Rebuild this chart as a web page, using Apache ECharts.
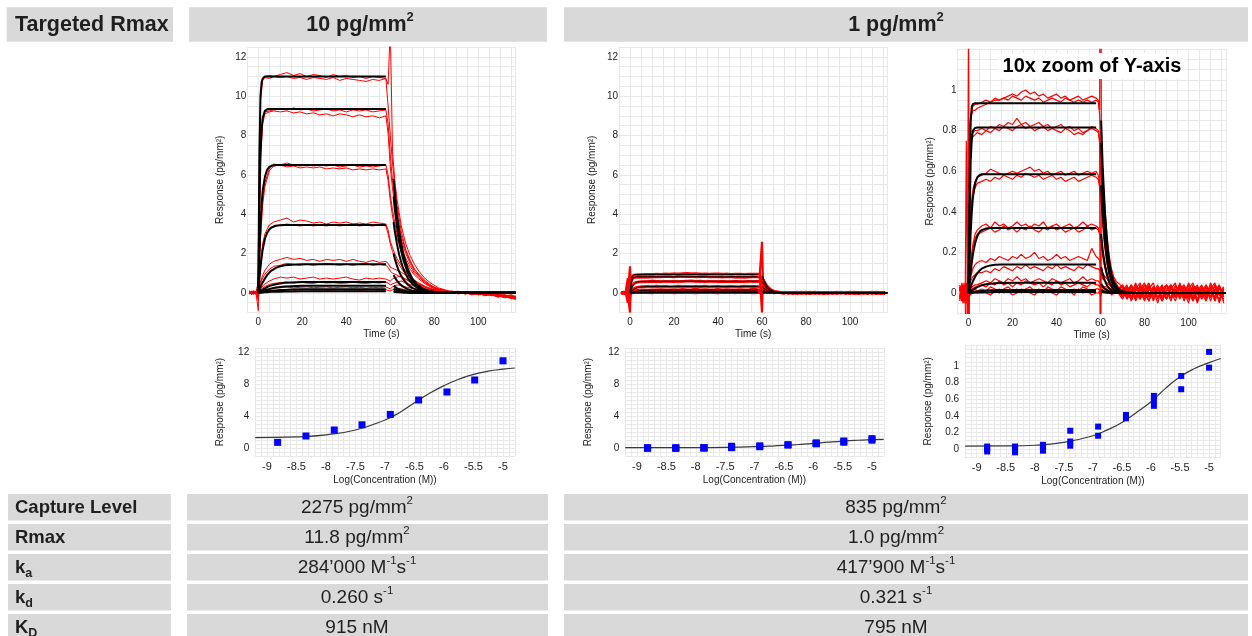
<!DOCTYPE html>
<html>
<head>
<meta charset="utf-8">
<title>Targeted Rmax kinetics</title>
<script src="https://cdn.jsdelivr.net/npm/echarts@6.0.0/dist/echarts.min.js"></script>
<style>
  html, body { margin: 0; padding: 0; background: #fff; }
  #chart { width: 1252px; height: 636px; }
</style>
</head>
<body>
<div id="chart"></div>
<script>
// ---------- tick labels ----------
const SENSOR_X_LABELS = [0, 20, 40, 60, 80, 100];
const SENSOR_Y_LABELS_FULL = [0, 2, 4, 6, 8, 10, 12];
const SENSOR_Y_LABELS_ZOOM = [0, 0.2, 0.4, 0.6, 0.8, 1];
const DOSE_X_LABELS = [-9, -8.5, -8, -7.5, -7, -6.5, -6, -5.5, -5];
const DOSE_Y_LABELS_FULL = [0, 4, 8, 12];
const DOSE_Y_LABELS_ZOOM = [0, 0.2, 0.4, 0.6, 0.8, 1];

// ---------- fitted curves (black) ----------
const FIT_TIME_ASSOC = [0, 0.5, 1, 1.5, 2, 3, 4, 5, 6, 8, 10, 12, 15, 20, 58];
const FIT_TIME_DISSOC_HI = [61.5, 62, 63, 64, 65, 66, 68, 70, 72, 75, 78, 82, 90, 117];
const FIT_TIME_DISSOC_LO = [60.3, 61, 62, 63, 64, 65, 66, 68, 70, 75, 117];

const FIT_ASSOC_HI = [
  [0, 7.2, 10.0, 10.7, 10.9, 11.0, 11.0, 11.0, 11.0, 11.0, 11.0, 11.0, 11.0, 11.0, 11.0],
  [0, 4.5, 7.0, 8.3, 8.9, 9.25, 9.33, 9.35, 9.35, 9.35, 9.35, 9.35, 9.35, 9.35, 9.35],
  [0, 2.0, 3.5, 4.5, 5.2, 5.9, 6.25, 6.4, 6.46, 6.5, 6.5, 6.5, 6.5, 6.5, 6.5],
  [0, 0.7, 1.3, 1.8, 2.2, 2.75, 3.05, 3.22, 3.32, 3.41, 3.44, 3.45, 3.45, 3.45, 3.45],
  [0, 0.15, 0.3, 0.42, 0.53, 0.73, 0.9, 1.03, 1.13, 1.27, 1.35, 1.4, 1.43, 1.45, 1.45],
  [0, 0.04, 0.08, 0.12, 0.16, 0.23, 0.29, 0.34, 0.38, 0.44, 0.48, 0.51, 0.53, 0.55, 0.55],
  [0, 0.02, 0.04, 0.06, 0.08, 0.12, 0.16, 0.19, 0.22, 0.27, 0.3, 0.32, 0.34, 0.36, 0.36],
  [0, 0.01, 0.02, 0.03, 0.04, 0.06, 0.08, 0.09, 0.1, 0.12, 0.14, 0.15, 0.17, 0.18, 0.18],
  [0, 0, 0.01, 0.01, 0.02, 0.03, 0.03, 0.04, 0.05, 0.06, 0.06, 0.07, 0.07, 0.08, 0.08]
];
const FIT_DISSOC_HI = [
  [5.8, 5.1, 4.0, 3.15, 2.5, 1.95, 1.2, 0.72, 0.43, 0.2, 0.08, 0.03, 0, 0],
  [4.9, 4.3, 3.4, 2.65, 2.1, 1.65, 1.0, 0.6, 0.36, 0.16, 0.07, 0.02, 0, 0],
  [3.6, 3.15, 2.5, 1.95, 1.55, 1.2, 0.74, 0.45, 0.27, 0.12, 0.05, 0.02, 0, 0],
  [2.0, 1.75, 1.38, 1.08, 0.85, 0.67, 0.41, 0.25, 0.15, 0.07, 0.03, 0.01, 0, 0],
  [0.9, 0.79, 0.62, 0.49, 0.38, 0.3, 0.18, 0.11, 0.07, 0.03, 0.01, 0, 0, 0],
  [0.35, 0.31, 0.24, 0.19, 0.15, 0.12, 0.07, 0.04, 0.03, 0.01, 0, 0, 0, 0],
  [0.2, 0.18, 0.14, 0.11, 0.09, 0.07, 0.04, 0.03, 0.02, 0.01, 0, 0, 0, 0],
  [0.1, 0.09, 0.07, 0.05, 0.04, 0.03, 0.02, 0.01, 0, 0, 0, 0, 0, 0],
  [0.05, 0.04, 0.03, 0.03, 0.02, 0.02, 0.01, 0, 0, 0, 0, 0, 0, 0]
];
const FIT_ASSOC_LO = [
  [0, 0.55, 0.85, 0.92, 0.93, 0.935, 0.935, 0.935, 0.935, 0.935, 0.935, 0.935, 0.935, 0.935, 0.935],
  [0, 0.38, 0.65, 0.76, 0.8, 0.813, 0.815, 0.815, 0.815, 0.815, 0.815, 0.815, 0.815, 0.815, 0.815],
  [0, 0.15, 0.3, 0.4, 0.47, 0.54, 0.57, 0.58, 0.585, 0.585, 0.585, 0.585, 0.585, 0.585, 0.585],
  [0, 0.05, 0.1, 0.15, 0.19, 0.245, 0.28, 0.3, 0.31, 0.318, 0.32, 0.32, 0.32, 0.32, 0.32],
  [0, 0.015, 0.03, 0.045, 0.058, 0.08, 0.097, 0.11, 0.12, 0.13, 0.136, 0.139, 0.14, 0.14, 0.14],
  [0, 0.004, 0.008, 0.012, 0.016, 0.023, 0.029, 0.034, 0.038, 0.043, 0.046, 0.048, 0.049, 0.05, 0.05],
  [0, 0.001, 0.002, 0.003, 0.004, 0.006, 0.008, 0.009, 0.01, 0.012, 0.013, 0.014, 0.015, 0.015, 0.015],
  [0, 0, 0.001, 0.001, 0.001, 0.002, 0.002, 0.003, 0.003, 0.004, 0.004, 0.005, 0.005, 0.005, 0.005]
];
const FIT_DISSOC_LO = [
  [0.85, 0.62, 0.4, 0.25, 0.15, 0.09, 0.055, 0.02, 0.008, 0, 0],
  [0.74, 0.54, 0.35, 0.22, 0.13, 0.08, 0.048, 0.018, 0.007, 0, 0],
  [0.53, 0.39, 0.25, 0.16, 0.095, 0.058, 0.035, 0.013, 0.005, 0, 0],
  [0.29, 0.21, 0.14, 0.085, 0.052, 0.032, 0.019, 0.007, 0.003, 0, 0],
  [0.127, 0.093, 0.06, 0.037, 0.023, 0.014, 0.008, 0.003, 0.001, 0, 0],
  [0.045, 0.033, 0.021, 0.013, 0.008, 0.005, 0.003, 0.001, 0, 0, 0],
  [0.014, 0.01, 0.006, 0.004, 0.002, 0.001, 0.001, 0, 0, 0, 0],
  [0.005, 0.003, 0.002, 0.001, 0.001, 0, 0, 0, 0, 0, 0]
];

// ---------- measured sensorgrams (red), 10 pg/mm2 ----------
const RED_TIME_HI = [-4, -3, -2, -1, 0,
  0.5, 1, 2, 3, 5, 7,
  10, 13, 16, 19, 22, 25, 28, 31, 34, 37, 40, 43, 46, 49, 52, 55, 58,
  59, 60, 61, 62, 63,
  65, 67, 69, 71, 73,
  76, 79, 82, 85, 88, 91, 94, 97, 100, 103, 106, 109, 112, 115, 117];
const RED_HI = [
  [0.05, -0.08, 0.1, 0.02, 0.3,
   6.5, 10.2, 10.9, 11.0, 11.05, 11.0,
   11.1, 11.2, 11.05, 11.15, 11.0, 11.1, 11.05, 10.95, 11.1, 11.0, 11.05, 10.95, 11.0, 10.9, 11.0, 10.95, 10.9,
   10.6, 13.5, 7.2, 5.8, 4.8,
   3.4, 2.5, 1.9, 1.45, 1.1,
   0.7, 0.45, 0.25, 0.15, 0.05, 0.08, -0.05, 0.02, -0.1, -0.05, -0.15, -0.1, -0.25, -0.2, -0.3],
  [-0.05, 0.1, -0.05, 0.08, -0.2,
   5.5, 9.8, 10.8, 10.95, 10.9, 11.0,
   10.95, 11.0, 10.9, 10.95, 10.85, 10.95, 10.9, 10.85, 10.95, 10.8, 10.9, 10.85, 10.8, 10.75, 10.85, 10.8, 10.9,
   9.5, 8.0, 6.6, 5.5, 4.5,
   3.1, 2.2, 1.65, 1.2, 0.9,
   0.55, 0.3, 0.2, 0.05, 0.1, -0.02, 0.05, -0.08, 0.0, -0.12, -0.05, -0.2, -0.15, -0.28, -0.22],
  [0.1, 0.0, -0.06, 0.05, 0.6,
   4.0, 7.2, 8.8, 9.2, 9.25, 9.3,
   9.35, 9.3, 9.4, 9.3, 9.35, 9.25, 9.3, 9.35, 9.25, 9.3, 9.2, 9.3, 9.25, 9.3, 9.2, 9.25, 9.3,
   8.6, 7.0, 5.7, 4.8, 4.0,
   2.9, 2.15, 1.6, 1.2, 0.95,
   0.6, 0.35, 0.2, 0.12, 0.0, 0.06, -0.04, 0.05, -0.08, 0.0, -0.12, -0.08, -0.18, -0.3, -0.25],
  [-0.04, 0.06, 0.1, -0.05, -0.9,
   3.2, 6.8, 8.6, 9.1, 9.2, 9.25,
   9.2, 9.25, 9.15, 9.2, 9.1, 9.15, 9.05, 9.1, 9.0, 9.1, 9.05, 8.95, 9.05, 8.95, 9.0, 8.9, 9.0,
   8.1, 6.4, 5.3, 4.5, 3.8,
   2.7, 2.0, 1.5, 1.1, 0.85,
   0.5, 0.3, 0.15, 0.08, 0.05, -0.05, 0.02, -0.1, -0.02, -0.15, -0.08, -0.22, -0.12, -0.25, -0.35],
  [0.02, -0.1, 0.05, 0.0, 0.2,
   1.6, 3.0, 4.8, 5.6, 6.3, 6.55,
   6.5, 6.6, 6.5, 6.45, 6.5, 6.45, 6.5, 6.45, 6.5, 6.4, 6.45, 6.5, 6.4, 6.45, 6.4, 6.45, 6.5,
   6.0, 5.0, 4.2, 3.6, 3.0,
   2.3, 1.75, 1.35, 1.0, 0.78,
   0.5, 0.3, 0.18, 0.1, 0.02, 0.07, -0.03, 0.04, -0.06, -0.02, -0.1, -0.05, -0.2, -0.15, -0.28],
  [-0.06, 0.04, -0.02, 0.08, -0.4,
   1.3, 2.7, 4.5, 5.4, 6.2, 6.45,
   6.5, 6.4, 6.45, 6.35, 6.4, 6.35, 6.4, 6.3, 6.35, 6.3, 6.35, 6.25, 6.3, 6.25, 6.3, 6.25, 6.3,
   5.7, 4.7, 3.9, 3.3, 2.8,
   2.1, 1.6, 1.2, 0.9, 0.7,
   0.45, 0.25, 0.12, 0.05, 0.08, -0.04, 0.03, -0.05, 0.02, -0.1, -0.04, -0.15, -0.22, -0.18, -0.3],
  [0.08, 0.0, -0.08, 0.05, 0.1,
   0.8, 1.5, 2.5, 3.0, 3.45, 3.6,
   3.7, 3.8, 3.6, 3.7, 3.65, 3.55, 3.6, 3.5, 3.6, 3.55, 3.6, 3.5, 3.55, 3.5, 3.6, 3.55, 3.5,
   3.2, 2.6, 2.3, 2.0, 1.75,
   1.4, 1.1, 0.85, 0.65, 0.5,
   0.32, 0.2, 0.1, 0.05, -0.02, 0.04, -0.06, 0.0, -0.1, -0.04, -0.12, -0.2, -0.15, -0.25, -0.2],
  [-0.02, 0.06, 0.0, -0.06, 0.3,
   0.7, 1.3, 2.2, 2.8, 3.25, 3.4,
   3.45, 3.5, 3.45, 3.4, 3.45, 3.4, 3.45, 3.4, 3.45, 3.4, 3.45, 3.5, 3.4, 3.45, 3.4, 3.45, 3.4,
   3.0, 2.5, 2.1, 1.85, 1.6,
   1.25, 0.95, 0.75, 0.58, 0.45,
   0.28, 0.15, 0.08, 0.02, 0.05, -0.03, 0.02, -0.07, -0.02, -0.12, -0.06, -0.16, -0.24, -0.18, -0.32],
  [0.05, -0.05, 0.08, 0.0, 0.0,
   0.3, 0.55, 0.9, 1.15, 1.45, 1.6,
   1.7, 1.8, 1.7, 1.75, 1.65, 1.7, 1.6, 1.7, 1.65, 1.7, 1.6, 1.7, 1.6, 1.55, 1.65, 1.55, 1.6,
   1.5, 1.3, 1.25, 1.2, 1.15,
   1.05, 0.9, 0.75, 0.6, 0.45,
   0.3, 0.18, 0.1, 0.03, 0.06, -0.02, 0.04, -0.05, 0.0, -0.08, -0.02, -0.14, -0.1, -0.2, -0.25],
  [-0.05, 0.05, 0.0, 0.06, 0.2,
   0.25, 0.45, 0.75, 0.95, 1.2, 1.35,
   1.4, 1.5, 1.45, 1.4, 1.45, 1.4, 1.45, 1.5, 1.45, 1.4, 1.45, 1.4, 1.45, 1.5, 1.4, 1.45, 1.4,
   1.3, 1.1, 1.0, 0.95, 0.9,
   0.8, 0.68, 0.55, 0.45, 0.35,
   0.22, 0.12, 0.05, 0.08, 0.0, 0.05, -0.04, 0.02, -0.06, 0.0, -0.1, -0.06, -0.18, -0.12, -0.22],
  [0.0, 0.08, -0.05, 0.03, -0.3,
   0.1, 0.2, 0.35, 0.45, 0.6, 0.7,
   0.8, 0.75, 0.8, 0.7, 0.75, 0.8, 0.7, 0.75, 0.7, 0.75, 0.8, 0.7, 0.65, 0.75, 0.7, 0.75, 0.7,
   0.65, 0.6, 0.7, 0.75, 0.8,
   0.85, 0.7, 0.6, 0.5, 0.4,
   0.28, 0.15, 0.1, 0.02, 0.04, -0.03, 0.02, -0.06, 0.0, -0.1, -0.05, -0.12, -0.2, -0.15, -0.26],
  [0.06, -0.04, 0.02, -0.08, 0.15,
   0.08, 0.15, 0.25, 0.32, 0.42, 0.48,
   0.52, 0.55, 0.5, 0.55, 0.5, 0.48, 0.55, 0.5, 0.52, 0.48, 0.5, 0.55, 0.5, 0.48, 0.52, 0.5, 0.55,
   0.5, 0.4, 0.45, 0.5, 0.55,
   0.6, 0.5, 0.42, 0.35, 0.28,
   0.18, 0.1, 0.05, 0.0, 0.04, -0.04, 0.02, -0.05, -0.08, -0.02, -0.12, -0.08, -0.16, -0.24, -0.18],
  [-0.03, 0.04, 0.08, -0.02, 0.0,
   0.05, 0.08, 0.12, 0.16, 0.2, 0.24,
   0.26, 0.3, 0.25, 0.28, 0.3, 0.26, 0.28, 0.3, 0.25, 0.28, 0.3, 0.26, 0.28, 0.24, 0.28, 0.26, 0.3,
   0.25, 0.2, 0.3, 0.35, 0.4,
   0.38, 0.3, 0.25, 0.2, 0.16,
   0.1, 0.06, 0.02, 0.05, -0.02, 0.03, -0.05, 0.0, -0.06, -0.1, -0.04, -0.14, -0.1, -0.2, -0.16],
  [0.04, -0.06, 0.0, 0.06, -0.1,
   0.02, 0.04, 0.06, 0.08, 0.1, 0.12,
   0.14, 0.16, 0.13, 0.15, 0.18, 0.14, 0.16, 0.13, 0.15, 0.17, 0.14, 0.16, 0.13, 0.15, 0.17, 0.14, 0.16,
   0.12, 0.1, 0.15, 0.2, 0.22,
   0.2, 0.16, 0.12, 0.1, 0.08,
   0.05, 0.02, 0.04, -0.02, 0.02, -0.04, 0.01, -0.06, -0.02, -0.08, -0.12, -0.06, -0.15, -0.1, -0.2]
];

// ---------- measured sensorgrams (red), 1 pg/mm2 (shown twice: full and 10x zoom) ----------
const RED_TIME_LO = [-4, -3, -2.5, -2, -1.5, -1, -0.5, 0,
  0.3, 0.6, 1, 1.5, 2, 3, 4,
  6, 8, 10, 12, 14, 16, 18, 20, 22,
  24, 26, 28, 30, 32, 34, 36, 38, 40,
  42, 44, 46, 48, 50, 52, 54, 56, 58,
  59, 59.6, 60, 60.4, 61,
  62, 63, 64, 65, 66, 67, 68,
  70, 72, 74, 76, 78, 80, 82, 84, 86, 88, 90, 92,
  94, 96, 98, 100, 102, 104, 106, 108, 110, 112, 114, 116];
const RED_LO = [
  [0.02, -0.03, 0.04, -0.02, 0.03, -0.05, 0.05, 1.35,
   0.5, 0.8, 0.87, 0.88, 0.9, 0.9, 0.91,
   0.92, 0.93, 0.94, 0.95, 0.95, 0.96, 0.97, 0.98, 0.97,
   0.99, 1.0, 0.98, 0.99, 0.97, 0.98, 0.96, 0.97, 0.98,
   0.96, 0.97, 0.95, 0.96, 0.97, 0.95, 0.96, 0.97, 0.96,
   0.95, 0.9, 2.6, 0.75, 0.6,
   0.42, 0.28, 0.18, 0.12, 0.08, 0.06, 0.05,
   0.03, -0.02, 0.04, 0.0, -0.03, 0.02, 0.05, -0.01, 0.03, -0.04, 0.01, 0.04,
   -0.02, 0.02, -0.03, 0.05, 0.0, -0.04, 0.03, 0.01, -0.02, 0.04, -0.05, 0.02],
  [-0.03, 0.02, -0.04, 0.05, -0.02, 0.04, -0.06, -0.4,
   0.3, 0.75, 0.85, 0.9, 0.92, 0.93, 0.93,
   0.94, 0.95, 0.94, 0.96, 0.95, 0.96, 0.95, 0.97, 0.96,
   0.95, 0.97, 0.96, 0.95, 0.96, 0.94, 0.95, 0.96, 0.95,
   0.94, 0.96, 0.95, 0.94, 0.95, 0.94, 0.95, 0.94, 0.95,
   0.94, 0.88, 0.7, 0.7, 0.55,
   0.38, 0.25, 0.16, 0.1, 0.07, 0.05, 0.03,
   -0.02, 0.03, 0.0, 0.05, -0.03, 0.01, -0.04, 0.03, 0.0, 0.04, -0.03, 0.02,
   0.05, -0.02, 0.01, -0.05, 0.03, 0.02, -0.03, 0.04, 0.0, -0.02, 0.03, -0.04],
  [0.04, -0.02, 0.03, -0.05, 0.02, -0.03, 0.04, -1.0,
   0.4, 0.68, 0.76, 0.78, 0.79, 0.8, 0.8,
   0.81, 0.8, 0.82, 0.81, 0.83, 0.82, 0.84, 0.83, 0.86,
   0.83, 0.84, 0.82, 0.83, 0.84, 0.82, 0.83, 0.81, 0.82,
   0.83, 0.81, 0.82, 0.8, 0.81, 0.79, 0.8, 0.82, 0.81,
   0.8, 0.76, -1.0, 0.65, 0.5,
   0.34, 0.22, 0.14, 0.09, 0.06, 0.04, 0.03,
   0.01, 0.04, -0.03, 0.02, 0.05, -0.02, 0.03, -0.04, 0.02, 0.0, 0.04, -0.03,
   0.01, 0.03, -0.04, 0.02, 0.05, -0.01, 0.02, -0.03, 0.04, 0.01, -0.04, 0.03],
  [-0.02, 0.05, -0.03, 0.02, -0.04, 0.03, -0.02, 0.2,
   0.25, 0.55, 0.7, 0.75, 0.77, 0.78, 0.79,
   0.78, 0.8, 0.79, 0.81, 0.8, 0.82, 0.81, 0.8, 0.82,
   0.83, 0.81, 0.82, 0.8, 0.81, 0.82, 0.8, 0.81, 0.8,
   0.79, 0.81, 0.8, 0.78, 0.79, 0.78, 0.8, 0.81, 0.8,
   0.79, 0.74, 0.6, 0.6, 0.46,
   0.3, 0.2, 0.13, 0.08, 0.05, 0.04, 0.02,
   0.03, -0.01, 0.02, -0.04, 0.01, 0.04, -0.02, 0.02, -0.05, 0.03, 0.0, -0.02,
   0.04, -0.01, 0.02, -0.03, 0.01, 0.04, -0.02, 0.0, 0.03, -0.04, 0.02, 0.01],
  [0.03, -0.04, 0.02, 0.04, -0.03, 0.75, -0.02, 0.3,
   0.12, 0.25, 0.38, 0.46, 0.51, 0.55, 0.57,
   0.58, 0.59, 0.61, 0.6, 0.59, 0.58, 0.59, 0.6, 0.59,
   0.6, 0.61, 0.62, 0.6, 0.61, 0.59, 0.6, 0.58, 0.59,
   0.6, 0.58, 0.59, 0.6, 0.58, 0.59, 0.6, 0.59, 0.6,
   0.58, 0.55, 0.5, 0.48, 0.36,
   0.24, 0.16, 0.1, 0.07, 0.05, 0.03, 0.02,
   0.04, 0.0, -0.03, 0.03, 0.01, -0.04, 0.02, 0.05, -0.02, 0.01, -0.03, 0.03,
   0.0, 0.04, -0.02, 0.02, -0.04, 0.01, 0.03, -0.03, 0.02, 0.05, -0.01, -0.03],
  [-0.03, 0.02, -0.05, 0.03, 0.01, -0.5, 0.04, -0.2,
   0.08, 0.2, 0.33, 0.42, 0.48, 0.52, 0.54,
   0.55, 0.56, 0.55, 0.57, 0.56, 0.58, 0.57, 0.56, 0.58,
   0.57, 0.59, 0.58, 0.57, 0.58, 0.56, 0.57, 0.58, 0.56,
   0.57, 0.55, 0.56, 0.57, 0.55, 0.56, 0.57, 0.58, 0.57,
   0.56, 0.52, 0.45, 0.44, 0.33,
   0.22, 0.14, 0.09, 0.06, 0.04, 0.02, 0.01,
   -0.02, 0.03, 0.01, -0.03, 0.04, 0.0, -0.02, 0.03, 0.01, -0.04, 0.02, 0.04,
   -0.01, 0.0, 0.03, -0.02, 0.02, -0.05, 0.01, 0.04, -0.02, 0.0, 0.03, -0.01],
  [0.02, 0.04, -0.02, 0.01, -0.04, 0.03, 0.02, 0.1,
   0.05, 0.1, 0.15, 0.2, 0.24, 0.29, 0.31,
   0.33, 0.34, 0.32, 0.35, 0.33, 0.34, 0.32, 0.33, 0.35,
   0.33, 0.34, 0.32, 0.34, 0.33, 0.35, 0.32, 0.33, 0.34,
   0.32, 0.33, 0.34, 0.32, 0.33, 0.35, 0.33, 0.34, 0.33,
   0.32, 0.3, 0.28, 0.27, 0.2,
   0.14, 0.1, 0.07, 0.05, 0.04, 0.03, 0.02,
   0.0, 0.03, -0.02, 0.04, 0.01, -0.03, 0.02, 0.0, 0.04, -0.02, 0.01, -0.04,
   0.03, 0.02, -0.01, 0.04, -0.03, 0.01, 0.02, -0.02, 0.05, 0.0, -0.03, 0.02],
  [-0.04, 0.01, 0.03, -0.03, 0.02, -0.01, 0.03, -0.15,
   0.03, 0.08, 0.13, 0.18, 0.22, 0.27, 0.29,
   0.3, 0.31, 0.32, 0.3, 0.31, 0.33, 0.31, 0.32, 0.3,
   0.32, 0.31, 0.33, 0.31, 0.3, 0.32, 0.31, 0.33, 0.31,
   0.32, 0.3, 0.31, 0.32, 0.3, 0.31, 0.33, 0.31, 0.32,
   0.31, 0.29, 0.26, 0.25, 0.18,
   0.12, 0.09, 0.06, 0.04, 0.03, 0.02, 0.01,
   0.02, -0.03, 0.01, 0.03, -0.02, 0.04, 0.0, -0.03, 0.02, 0.03, -0.01, 0.01,
   -0.04, 0.02, 0.04, -0.02, 0.0, 0.03, -0.03, 0.01, 0.02, -0.04, 0.03, 0.0],
  [0.03, -0.02, 0.04, -0.03, 0.01, 0.05, -0.03, 0.0,
   0.02, 0.05, 0.08, 0.1, 0.12, 0.14, 0.15,
   0.16, 0.15, 0.17, 0.16, 0.18, 0.17, 0.16, 0.18, 0.17,
   0.19, 0.17, 0.18, 0.2, 0.17, 0.18, 0.16, 0.17, 0.19,
   0.17, 0.18, 0.16, 0.17, 0.18, 0.17, 0.16, 0.22, 0.18,
   0.17, 0.16, 0.14, 0.14, 0.1,
   0.08, 0.07, 0.05, 0.04, 0.03, 0.03, 0.02,
   0.03, 0.0, 0.04, -0.02, 0.02, 0.05, -0.01, 0.03, -0.03, 0.02, 0.04, 0.0,
   -0.02, 0.03, 0.01, -0.03, 0.04, 0.02, -0.01, 0.03, -0.04, 0.02, 0.0, 0.03],
  [-0.02, 0.03, 0.0, 0.04, -0.03, -0.05, 0.02, 0.15,
   0.03, 0.04, 0.06, 0.07, 0.08, 0.09, 0.1,
   0.1, 0.11, 0.1, 0.12, 0.11, 0.13, 0.12, 0.11, 0.13,
   0.12, 0.14, 0.12, 0.13, 0.12, 0.11, 0.13, 0.12, 0.14,
   0.12, 0.13, 0.12, 0.11, 0.13, 0.12, 0.14, 0.13, 0.12,
   0.12, 0.11, 0.1, 0.09, 0.07,
   0.06, 0.05, 0.04, 0.03, 0.02, 0.02, 0.01,
   -0.02, 0.02, -0.04, 0.01, 0.03, -0.02, 0.04, 0.0, 0.02, -0.03, 0.01, 0.03,
   -0.02, 0.05, 0.0, 0.02, -0.03, 0.01, 0.04, -0.01, 0.02, -0.03, 0.03, -0.02],
  [0.01, 0.04, -0.03, 0.02, 0.0, -0.02, 0.03, -0.06,
   0.0, 0.01, 0.02, 0.03, 0.03, 0.04, 0.04,
   0.05, 0.06, 0.05, 0.07, 0.06, 0.05, 0.07, 0.06, 0.08,
   0.06, 0.07, 0.05, 0.06, 0.07, 0.06, 0.05, 0.07, 0.06,
   0.05, 0.06, 0.07, 0.05, 0.06, 0.08, 0.06, 0.07, 0.06,
   0.06, 0.05, 0.05, 0.04, 0.04,
   0.03, 0.03, 0.02, 0.02, 0.01, 0.01, 0.0,
   0.04, -0.03, 0.01, 0.03, -0.01, 0.02, -0.04, 0.03, 0.01, -0.02, 0.04, 0.0,
   0.02, -0.03, 0.01, 0.04, -0.02, 0.03, 0.0, -0.04, 0.02, 0.03, -0.01, 0.01],
  [-0.03, 0.0, 0.03, -0.04, 0.04, 0.01, -0.04, 0.05,
   0.02, 0.0, 0.01, 0.02, 0.02, 0.03, 0.03,
   0.04, 0.03, 0.05, 0.04, 0.06, 0.04, 0.05, 0.03, 0.05,
   0.04, 0.06, 0.05, 0.04, 0.05, 0.03, 0.05, 0.04, 0.06,
   0.04, 0.05, 0.03, 0.04, 0.05, 0.04, 0.03, 0.05, 0.04,
   0.04, 0.03, 0.04, 0.03, 0.03,
   0.02, 0.02, 0.01, 0.01, 0.0, 0.01, 0.0,
   -0.01, 0.03, 0.0, -0.03, 0.04, 0.01, 0.03, -0.02, 0.0, 0.04, -0.03, 0.02,
   0.01, 0.04, -0.02, 0.0, 0.03, -0.04, 0.02, 0.01, -0.02, 0.04, 0.0, -0.03],
  [0.02, -0.04, 0.01, 0.03, -0.02, 0.02, 0.0, -0.1,
   -0.03, 0.0, 0.01, 0.0, 0.01, 0.02, 0.01,
   0.02, 0.01, 0.03, 0.02, 0.0, 0.02, 0.03, 0.01, 0.02,
   0.0, 0.02, 0.03, 0.01, 0.02, 0.0, 0.03, 0.02, 0.01,
   0.03, 0.02, 0.0, 0.02, 0.01, 0.03, 0.02, 0.01, 0.02,
   0.02, 0.01, 0.02, 0.01, 0.02,
   0.02, 0.01, 0.01, 0.0, 0.01, 0.0, 0.0,
   0.02, -0.02, 0.03, 0.0, -0.03, 0.02, 0.04, -0.01, 0.02, -0.04, 0.01, 0.03,
   -0.02, 0.0, 0.04, -0.01, 0.02, -0.03, 0.03, 0.0, 0.02, -0.02, 0.04, -0.05],
  [-0.02, 0.03, 0.02, -0.02, 0.04, -0.03, 0.01, 0.08,
   -0.02, 0.0, -0.01, 0.01, 0.0, 0.01, 0.0,
   0.01, 0.0, -0.01, 0.01, 0.02, 0.0, 0.01, -0.01, 0.0,
   0.02, 0.01, 0.0, -0.01, 0.01, 0.0, 0.02, 0.0, -0.01,
   0.01, 0.0, 0.01, -0.01, 0.02, 0.0, 0.01, -0.01, 0.0,
   0.0, 0.01, -0.02, 0.0, 0.01,
   0.01, 0.0, 0.01, -0.01, 0.0, 0.01, 0.0,
   -0.03, 0.01, 0.04, -0.02, 0.02, 0.0, -0.04, 0.03, 0.01, 0.02, -0.03, 0.04,
   0.0, -0.02, 0.03, 0.01, -0.04, 0.02, 0.0, 0.03, -0.02, 0.01, 0.04, -0.02]
];

// ---------- dose response ----------
const DOSE_LOGC = [-8.82, -8.34, -7.86, -7.39, -6.91, -6.43, -5.95, -5.48, -5.0];
const DOSE_RESP_HI = [0.7, 1.5, 2.25, 2.9, 4.2, 6.0, 7.0, 8.5, 10.9];
const DOSE_LO_X = [-8.82, -8.82, -8.82, -8.34, -8.34, -8.34, -7.86, -7.86, -7.86,
  -7.39, -7.39, -7.39, -6.91, -6.91, -6.43, -6.43, -5.95, -5.95, -5.95, -5.48, -5.48, -5.0, -5.0];
const DOSE_LO_Y = [0.03, 0.0, -0.03, 0.03, -0.01, -0.04, 0.05, 0.02, -0.02,
  0.22, 0.09, 0.04, 0.27, 0.16, 0.41, 0.37, 0.64, 0.58, 0.52, 0.88, 0.72, 1.17, 0.98];
const DOSE_FIT_X = [-9.2, -8.5, -8, -7.5, -7, -6.75, -6.5, -6.25, -6, -5.75, -5.5, -5.25, -5, -4.8];
const DOSE_FIT_HI = [1.3, 1.4, 1.65, 2.25, 3.5, 4.45, 5.65, 6.8, 7.8, 8.6, 9.2, 9.6, 9.85, 10.0];
const DOSE_FIT_LO = [0.035, 0.037, 0.045, 0.08, 0.16, 0.23, 0.32, 0.44, 0.57, 0.73, 0.87, 0.97, 1.04, 1.09];

// ---------- table ----------
const COLUMN_HEADS = ['{h|10 pg/mm}{hs|2}', '{h|1 pg/mm}{hs|2}'];
const ROW_NAMES = ['{l|Capture Level}', '{l|Rmax}', '{l|k}{ls|a}', '{l|k}{ls|d}', '{l|K}{ls|D}'];
const VALUES_HI = ['{v|2275 pg/mm}{vs|2}', '{v|11.8 pg/mm}{vs|2}', '{v|284\u2019000 M}{vs|-1}{v|s}{vs|-1}',
  '{v|0.260 s}{vs|-1}', '{v|915 nM}'];
const VALUES_LO = ['{v|835 pg/mm}{vs|2}', '{v|1.0 pg/mm}{vs|2}', '{v|417\u2019900 M}{vs|-1}{v|s}{vs|-1}',
  '{v|0.321 s}{vs|-1}', '{v|795 nM}'];

const FONT = '"Liberation Sans", Arial, Helvetica, sans-serif';
const INK = '#1f1f1f';
const CELL = '#d9d9d9';
const GRIDLINE = '#e8e8e8';

const RICH = {
  h: { fontFamily: FONT, fontSize: 21.5, fontWeight: 'bold', lineHeight: 28, fill: INK },
  hs: { fontFamily: FONT, fontSize: 13, fontWeight: 'bold', lineHeight: 19, verticalAlign: 'top', fill: INK },
  l: { fontFamily: FONT, fontSize: 18.5, fontWeight: 'bold', lineHeight: 26, fill: INK },
  ls: { fontFamily: FONT, fontSize: 12.5, fontWeight: 'bold', lineHeight: 12, verticalAlign: 'bottom', fill: INK },
  v: { fontFamily: FONT, fontSize: 19, lineHeight: 26, fill: INK },
  vs: { fontFamily: FONT, fontSize: 11.5, lineHeight: 18, verticalAlign: 'top', fill: INK }
};

function onlyAt(list) {
  return v => list.some(l => Math.abs(l - v) < 1e-6) ? String(+v.toFixed(2)) : '';
}

function xAxisFor(idx, min, max, interval, labels, name, nameGap, fontSize) {
  return {
    type: 'value', gridIndex: idx, min, max, interval,
    axisLine: { show: false }, axisTick: { show: false },
    splitLine: { show: true, lineStyle: { color: GRIDLINE, width: 1 } },
    axisLabel: { formatter: onlyAt(labels), margin: 5, fontSize, color: '#222', fontFamily: FONT },
    name, nameLocation: 'middle', nameGap,
    nameTextStyle: { fontSize: 10, color: '#222', fontFamily: FONT }
  };
}
function yAxisFor(idx, min, max, interval, labels, nameGap, margin) {
  return {
    type: 'value', gridIndex: idx, min, max, interval,
    axisLine: { show: false }, axisTick: { show: false },
    splitLine: { show: true, lineStyle: { color: GRIDLINE, width: 1 } },
    axisLabel: { formatter: onlyAt(labels), margin, fontSize: 10, color: '#222', fontFamily: FONT },
    name: 'Response (pg/mm\u00b2)', nameLocation: 'middle', nameGap,
    nameTextStyle: { fontSize: 10, color: '#222', fontFamily: FONT }
  };
}

const grids = [
  { left: 247.3, top: 47, width: 268.4, height: 265.5 },
  { left: 619, top: 47, width: 268.4, height: 265.5 },
  { left: 957.5, top: 49.4, width: 268.4, height: 263.9 },
  { left: 255.2, top: 348, width: 259.6, height: 108 },
  { left: 625.25, top: 348, width: 258.5, height: 108 },
  { left: 965.1, top: 345.25, width: 255.6, height: 112.05 }
].map(g => Object.assign(g, { containLabel: false, outerBoundsMode: 'none' }));

const xAxes = [
  xAxisFor(0, -5, 117, 5, SENSOR_X_LABELS, 'Time (s)', 17, 10),
  xAxisFor(1, -5, 117, 5, SENSOR_X_LABELS, 'Time (s)', 17, 10),
  xAxisFor(2, -5, 117, 5, SENSOR_X_LABELS, 'Time (s)', 17, 10),
  xAxisFor(3, -9.2, -4.8, 0.1, DOSE_X_LABELS, 'Log(Concentration (M))', 19, 11),
  xAxisFor(4, -9.2, -4.8, 0.1, DOSE_X_LABELS, 'Log(Concentration (M))', 19, 11),
  xAxisFor(5, -9.2, -4.8, 0.1, DOSE_X_LABELS, 'Log(Concentration (M))', 19, 11)
];
const yAxes = [
  yAxisFor(0, -1, 12.5, 0.5, SENSOR_Y_LABELS_FULL, 22, 1),
  yAxisFor(1, -1, 12.5, 0.5, SENSOR_Y_LABELS_FULL, 22, 1),
  yAxisFor(2, -0.1, 1.2, 0.05, SENSOR_Y_LABELS_ZOOM, 22, 1),
  yAxisFor(3, -1, 12.5, 0.5, DOSE_Y_LABELS_FULL, 30, 6),
  yAxisFor(4, -1, 12.5, 0.5, DOSE_Y_LABELS_FULL, 32, 6),
  yAxisFor(5, -0.1, 1.25, 0.05, DOSE_Y_LABELS_ZOOM, 32, 6)
];

const series = [];
function addLine(panel, times, values, color, width, z, smooth) {
  series.push({
    type: 'line', xAxisIndex: panel, yAxisIndex: panel,
    data: times.map((t, i) => [t, values[i]]),
    symbol: 'none', silent: true, smooth: !!smooth, clip: true,
    lineStyle: { color, width }, z
  });
}
function addSquares(panel, xs, ys, size) {
  series.push({
    type: 'scatter', xAxisIndex: panel, yAxisIndex: panel,
    data: xs.map((x, i) => [x, ys[i]]),
    symbol: 'rect', symbolSize: size, silent: true,
    itemStyle: { color: '#0000ff', opacity: 1 }, z: 4
  });
}

// 10 pg/mm2 sensorgram
RED_HI.forEach(tr => addLine(0, RED_TIME_HI, tr, '#ff0000', 1, 2));
FIT_ASSOC_HI.forEach(c => addLine(0, FIT_TIME_ASSOC, c, '#000', 2, 3));
FIT_DISSOC_HI.forEach(c => addLine(0, FIT_TIME_DISSOC_HI, c, '#000', 2, 3));
// 1 pg/mm2 sensorgram, full scale
RED_LO.forEach(tr => addLine(1, RED_TIME_LO, tr, '#ff0000', 2.2, 2));
FIT_ASSOC_LO.forEach(c => addLine(1, FIT_TIME_ASSOC, c, '#000', 1, 3));
FIT_DISSOC_LO.forEach(c => addLine(1, FIT_TIME_DISSOC_LO, c, '#000', 1, 3));
// 1 pg/mm2 sensorgram, 10x zoom
RED_LO.forEach(tr => addLine(2, RED_TIME_LO, tr, '#ff0000', 1.2, 2));
FIT_ASSOC_LO.forEach(c => addLine(2, FIT_TIME_ASSOC, c, '#000', 2, 3));
FIT_DISSOC_LO.forEach(c => addLine(2, FIT_TIME_DISSOC_LO, c, '#000', 2, 3));
// dose response
addLine(3, DOSE_FIT_X, DOSE_FIT_HI, '#3a3a3a', 1.2, 3, true);
addSquares(3, DOSE_LOGC, DOSE_RESP_HI, 7);
addLine(4, DOSE_FIT_X, DOSE_FIT_LO, '#3a3a3a', 1.2, 3, true);
addSquares(4, DOSE_LO_X, DOSE_LO_Y, 7);
addLine(5, DOSE_FIT_X, DOSE_FIT_LO, '#3a3a3a', 1.2, 3, true);
addSquares(5, DOSE_LO_X, DOSE_LO_Y, 6);

// table cells and texts
function cell(x, y, w, h) {
  return { type: 'rect', silent: true, z: 0, shape: { x, y, width: w, height: h }, style: { fill: CELL } };
}
function txt(x, y, text, align) {
  return { type: 'text', silent: true, z: 1, x, y,
           style: { text, rich: RICH, align, verticalAlign: 'middle', fill: INK, fontFamily: FONT } };
}
const elements = [
  cell(6.7, 7.3, 166.3, 34.4), cell(189, 7.3, 358, 34.4), cell(564, 7.3, 684, 34.4),
  txt(15, 25, '{h|Targeted Rmax}', 'left'),
  txt(360, 25, COLUMN_HEADS[0], 'center'),
  txt(896, 25, COLUMN_HEADS[1], 'center')
];
ROW_NAMES.forEach((name, i) => {
  const top = 494 + 30 * i;
  elements.push(cell(8, top, 163, 26.5), cell(187, top, 361, 26.5), cell(564, top, 684, 26.5));
  elements.push(txt(15, top + 13.5, name, 'left'));
  elements.push(txt(357, top + 13.5, VALUES_HI[i], 'center'));
  elements.push(txt(896, top + 13.5, VALUES_LO[i], 'center'));
});
elements.push({
  type: 'text', silent: true, z: 100, x: 1092, y: 66,
  style: { text: '10x zoom of Y-axis', align: 'center', verticalAlign: 'middle',
           fontFamily: FONT, fontSize: 20, fontWeight: 'bold', fill: '#000',
           backgroundColor: '#fff', padding: [3, 4] }
});

const chart = echarts.init(document.getElementById('chart'), null, { renderer: 'canvas' });
chart.setOption({
  animation: false,
  backgroundColor: '#fff',
  textStyle: { fontFamily: FONT },
  grid: grids,
  xAxis: xAxes,
  yAxis: yAxes,
  series,
  graphic: { elements }
});
</script>
</body>
</html>
